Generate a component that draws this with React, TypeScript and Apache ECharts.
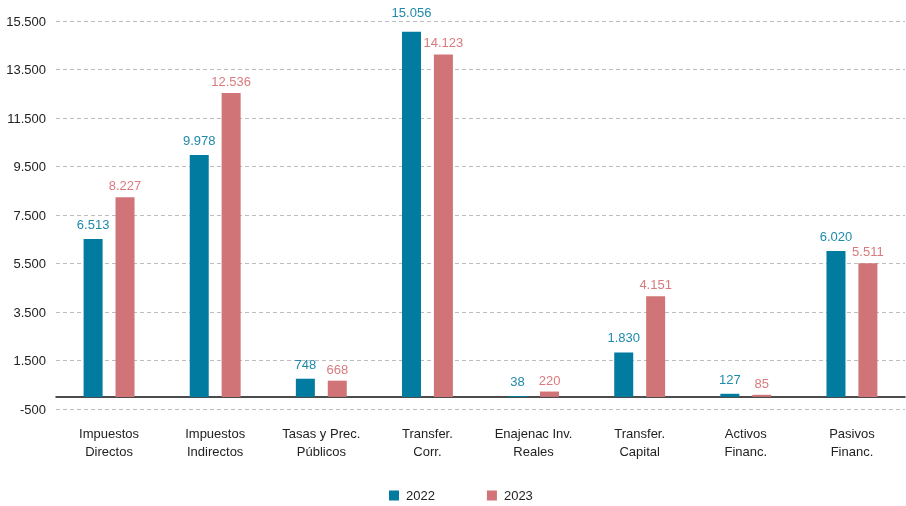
import React, { useEffect, useRef } from "react";
import * as echarts from "echarts";

const categories = [
  "Impuestos\nDirectos",
  "Impuestos\nIndirectos",
  "Tasas y Prec.\nPúblicos",
  "Transfer.\nCorr.",
  "Enajenac Inv.\nReales",
  "Transfer.\nCapital",
  "Activos\nFinanc.",
  "Pasivos\nFinanc.",
];
const values2022 = [6513, 9978, 748, 15056, 38, 1830, 127, 6020];
const values2023 = [8227, 12536, 668, 14123, 220, 4151, 85, 5511];
const seriesNames = ["2022", "2023"];

const fmt = (v: number) =>
  String(Math.round(v)).replace(/\B(?=(\d{3})+(?!\d))/g, ".");

const FONT = "'Helvetica Neue', Helvetica, 'Liberation Sans', Arial, sans-serif";

export default function App() {
  const ref = useRef<HTMLDivElement>(null);
  useEffect(() => {
    if (!ref.current) return;
    const chart = echarts.init(ref.current, undefined, { renderer: "svg" });
    const maxIdx = values2022.indexOf(Math.max(...values2022));
    chart.setOption({
      animation: false,
      textStyle: { fontFamily: FONT },
      grid: { left: 56, right: 1, top: 21, bottom: 97, containLabel: false },
      legend: {
        top: 484,
        left: 384,
        itemWidth: 10,
        itemHeight: 10,
        itemGap: 52,
        icon: "rect",
        textStyle: {
          fontFamily: FONT,
          fontSize: 13,
          color: "#222",
          padding: [0, 0, 0, 2],
        },
        data: seriesNames,
      },
      xAxis: {
        type: "category",
        data: categories,
        axisLine: { onZero: true, lineStyle: { color: "#111", width: 1.5 } },
        axisTick: { show: false },
        axisLabel: {
          margin: 15,
          fontFamily: FONT,
          fontSize: 13,
          color: "#222",
          lineHeight: 18,
          interval: 0,
        },
      },
      yAxis: {
        type: "value",
        min: -500,
        max: 15500,
        interval: 2000,
        axisLine: { show: false },
        axisTick: { show: false },
        axisLabel: {
          margin: 10,
          fontFamily: FONT,
          fontSize: 13,
          color: "#222",
          formatter: (v: number) => fmt(v),
        },
        splitLine: {
          lineStyle: { color: "#bdbdbd", type: [4, 3], width: 1 },
        },
      },
      series: [
        {
          name: seriesNames[0],
          type: "bar",
          data: values2022.map((v, i) =>
            i === maxIdx ? { value: v, label: { distance: 13 } } : v
          ),
          barWidth: 19,
          barGap: "68%",
          itemStyle: { color: "#017b9f" },
          label: {
            show: true,
            position: "top",
            distance: 8,
            fontFamily: FONT,
            fontSize: 13,
            color: "#1f8aab",
            formatter: (p: any) => fmt(p.value),
          },
        },
        {
          name: seriesNames[1],
          type: "bar",
          data: values2023,
          barWidth: 19,
          barGap: "68%",
          itemStyle: { color: "#d07477" },
          label: {
            show: true,
            position: "top",
            distance: 5,
            fontFamily: FONT,
            fontSize: 13,
            color: "#d97b7e",
            formatter: (p: any) => fmt(p.value),
          },
        },
      ],
    });
    return () => chart.dispose();
  }, []);
  return (
    <div
      ref={ref}
      style={{ position: "fixed", left: 0, top: 0, width: 906, height: 506 }}
    />
  );
}
